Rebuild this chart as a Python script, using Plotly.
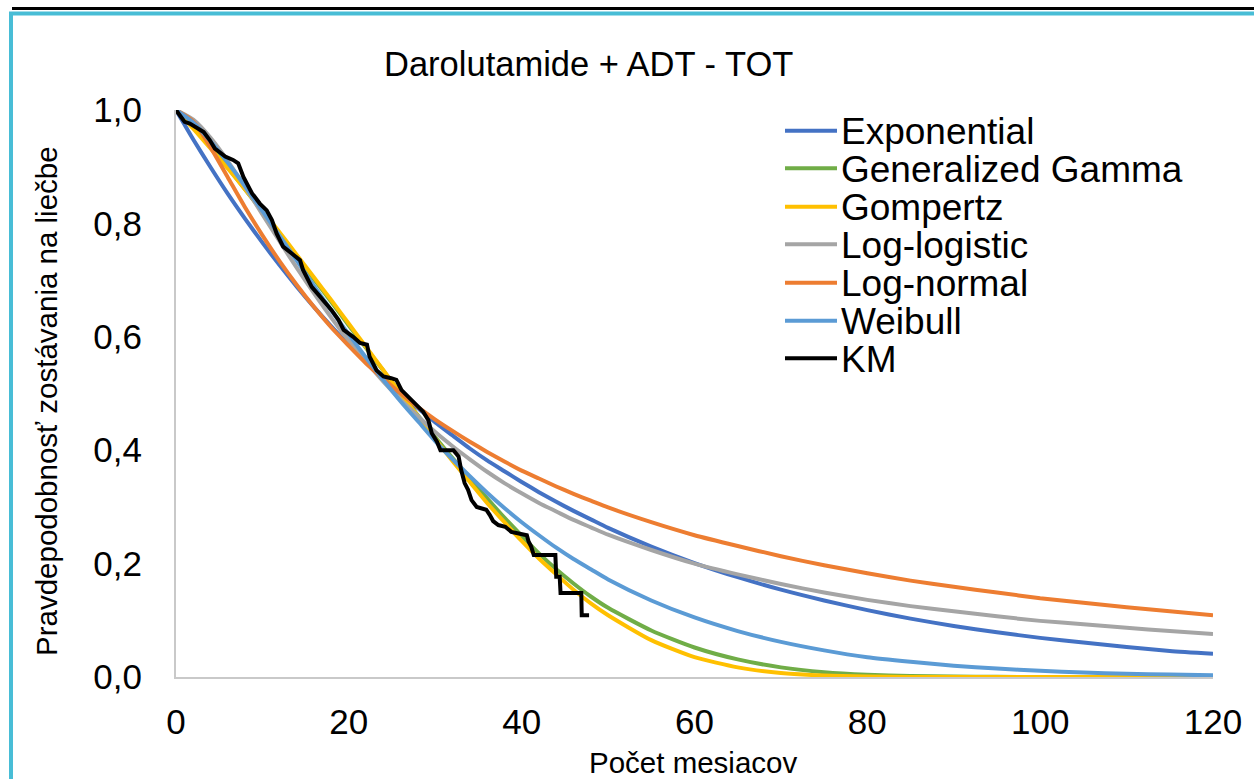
import plotly.graph_objects as go

# ---- data ----
months = [0, 2, 4, 6, 8, 10, 12, 14, 16, 18, 20, 22, 24, 26, 28, 30, 32, 34, 36, 38, 40,
          42, 44, 46, 48, 50, 55, 60, 65, 70, 75, 80, 85, 90, 95, 100, 105, 110, 115, 120]

exponential = [1.000, 0.948, 0.899, 0.852, 0.808, 0.766, 0.726, 0.688, 0.652, 0.618, 0.586,
               0.556, 0.527, 0.499, 0.474, 0.449, 0.426, 0.403, 0.382, 0.363, 0.344,
               0.326, 0.309, 0.293, 0.278, 0.263, 0.230, 0.201, 0.176, 0.154, 0.135,
               0.118, 0.103, 0.090, 0.079, 0.069, 0.061, 0.053, 0.046, 0.041]

gen_gamma = [1.000, 0.970, 0.935, 0.898, 0.860, 0.821, 0.782, 0.742, 0.701, 0.661, 0.620,
             0.580, 0.540, 0.500, 0.461, 0.423, 0.386, 0.350, 0.315, 0.281, 0.249,
             0.218, 0.190, 0.165, 0.142, 0.122, 0.082, 0.052, 0.031, 0.017, 0.0085,
             0.004, 0.0018, 0.0008, 0.0003, 0.0001, 0.0, 0.0, 0.0, 0.0]

gompertz = [1.000, 0.967, 0.932, 0.897, 0.860, 0.822, 0.784, 0.744, 0.704, 0.664, 0.623,
            0.582, 0.541, 0.500, 0.460, 0.420, 0.381, 0.344, 0.307, 0.273, 0.240,
            0.209, 0.181, 0.154, 0.130, 0.109, 0.065, 0.035, 0.017, 0.0071, 0.0025,
            0.0007, 0.0002, 0.0, 0.0, 0.0, 0.0, 0.0, 0.0, 0.0]

log_logistic = [1.000, 0.983, 0.951, 0.910, 0.864, 0.816, 0.768, 0.721, 0.676, 0.633, 0.593,
                0.556, 0.521, 0.489, 0.460, 0.432, 0.407, 0.384, 0.362, 0.342, 0.324,
                0.307, 0.292, 0.277, 0.264, 0.251, 0.224, 0.200, 0.181, 0.164, 0.149,
                0.136, 0.125, 0.116, 0.107, 0.099, 0.093, 0.087, 0.081, 0.076]

log_normal = [1.000, 0.980, 0.934, 0.881, 0.828, 0.779, 0.733, 0.691, 0.652, 0.616, 0.584,
              0.553, 0.526, 0.500, 0.476, 0.454, 0.434, 0.415, 0.397, 0.380, 0.364,
              0.350, 0.336, 0.323, 0.311, 0.299, 0.273, 0.250, 0.231, 0.213, 0.197,
              0.183, 0.170, 0.159, 0.149, 0.139, 0.131, 0.123, 0.116, 0.109]

weibull = [1.000, 0.978, 0.945, 0.907, 0.866, 0.822, 0.778, 0.734, 0.689, 0.646, 0.604,
           0.563, 0.524, 0.486, 0.451, 0.416, 0.384, 0.354, 0.325, 0.298, 0.273,
           0.250, 0.228, 0.208, 0.190, 0.172, 0.135, 0.105, 0.081, 0.062, 0.047,
           0.035, 0.027, 0.020, 0.015, 0.011, 0.0079, 0.0058, 0.0042, 0.0030]

km_months = [0, 1.0, 1.6, 3.2, 3.9, 4.5, 5.7, 6.6, 7.2, 7.8, 8.8, 9.7, 10.5, 11.1, 11.65,
             12.4, 13.4, 14.35, 14.7, 15.7, 16.5, 17.2, 18.0, 18.8, 19.4, 20.5, 21.3, 22.1,
             22.4, 23.2, 24.0, 24.9, 25.5, 26.1, 26.9, 27.7, 28.6, 29.2, 29.6, 30.2, 30.6,
             32.1, 32.7, 33.0, 33.4, 33.8, 34.2, 34.8, 35.9, 36.3, 36.7, 37.3, 38.1, 38.8,
             39.8, 40.6, 40.8, 41.1, 41.4, 43.9, 44.0, 44.4, 44.5, 46.9, 46.95, 47.8]
km_surv = [1.0, 0.979, 0.976, 0.961, 0.947, 0.932, 0.918, 0.912, 0.906, 0.882, 0.853, 0.835,
           0.823, 0.806, 0.782, 0.759, 0.747, 0.735, 0.718, 0.688, 0.674, 0.662, 0.647,
           0.630, 0.612, 0.600, 0.589, 0.586, 0.565, 0.541, 0.530, 0.527, 0.524, 0.506,
           0.494, 0.482, 0.468, 0.453, 0.430, 0.415, 0.400, 0.400, 0.389, 0.365, 0.342,
           0.330, 0.312, 0.300, 0.295, 0.286, 0.275, 0.268, 0.265, 0.256, 0.253, 0.250,
           0.239, 0.230, 0.215, 0.215, 0.177, 0.177, 0.148, 0.148, 0.109, 0.109]

series_names = ["Exponential", "Generalized Gamma", "Gompertz", "Log-logistic",
                "Log-normal", "Weibull", "KM"]
series_values = [exponential, gen_gamma, gompertz, log_logistic, log_normal, weibull]
series_colors = ["#4472C4", "#70AD47", "#FFC000", "#A5A5A5", "#ED7D31", "#5B9BD5", "#000000"]

x_ticks = [0, 20, 40, 60, 80, 100, 120]
y_ticks = [0.0, 0.2, 0.4, 0.6, 0.8, 1.0]

FONT = "Liberation Sans, Arial, sans-serif"
W, H = 1254, 779
L, R, T, B = 176, 1213, 110, 677


def px(x):
    return (x - L) / (R - L)


def py(y):
    return (B - y) / (B - T)


fig = go.Figure()
for name, vals, col in zip(series_names[:-1], series_values, series_colors[:-1]):
    fig.add_trace(go.Scatter(x=months, y=vals, mode="lines", name=name,
                             line=dict(color=col, width=4, shape="spline", smoothing=0.6),
                             showlegend=False))
fig.add_trace(go.Scatter(x=km_months, y=km_surv, mode="lines", name="KM",
                         line=dict(color="#000000", width=4), showlegend=False))

shapes = []
annotations = []

# legend (manual, to match tight Excel spacing)
leg_y = [130.7, 168.3, 206.7, 244.3, 282.7, 320.7, 358.3]
for name, col, yy in zip(series_names, series_colors, leg_y):
    shapes.append(dict(type="line", xref="paper", yref="paper",
                       x0=px(785), x1=px(837), y0=py(yy), y1=py(yy),
                       line=dict(color=col, width=4)))
    annotations.append(dict(text=name, xref="paper", yref="paper", x=px(839), y=py(yy + 1),
                            xanchor="left", yanchor="middle", showarrow=False,
                            font=dict(family=FONT, size=37, color="#000000")))

# frame lines
shapes.append(dict(type="line", xref="paper", yref="paper", x0=px(12), x1=px(1260),
                   y0=py(8.5), y1=py(8.5), line=dict(color="#000000", width=3)))
shapes.append(dict(type="line", xref="paper", yref="paper", x0=px(9), x1=px(1260),
                   y0=py(13.5), y1=py(13.5), line=dict(color="#48BDD6", width=4)))
shapes.append(dict(type="line", xref="paper", yref="paper", x0=px(11), x1=px(11),
                   y0=py(12), y1=py(790), line=dict(color="#48BDD6", width=4)))

annotations.append(dict(text="Darolutamide + ADT - TOT", xref="paper", yref="paper",
                        x=px(588), y=py(64), xanchor="center", yanchor="middle",
                        showarrow=False, font=dict(family=FONT, size=34.5, color="#000000")))
annotations.append(dict(text="Počet mesiacov", xref="paper", yref="paper",
                        x=px(693), y=py(762), xanchor="center", yanchor="middle",
                        showarrow=False, font=dict(family=FONT, size=29.5, color="#000000")))
annotations.append(dict(text="Pravdepodobnosť zostávania na liečbe", xref="paper", yref="paper",
                        x=px(46), y=py(401), xanchor="center", yanchor="middle", textangle=-90,
                        showarrow=False, font=dict(family=FONT, size=29.5, color="#000000")))

fig.update_layout(
    width=W, height=H, autosize=False,
    margin=dict(l=L, r=W - R, t=T, b=H - B, pad=0),
    paper_bgcolor="white", plot_bgcolor="white",
    separators=", ",
    font=dict(family=FONT, size=35, color="#000000"),
    shapes=shapes, annotations=annotations,
    showlegend=False,
    xaxis=dict(range=[0, 120], tickvals=x_ticks, ticktext=[str(v) for v in x_ticks],
               showgrid=False, zeroline=False, showline=True, linecolor="#C9C9C9",
               linewidth=2, ticks="", ticklabelstandoff=13,
               tickfont=dict(family=FONT, size=35, color="#000000")),
    yaxis=dict(range=[0, 1], tickvals=y_ticks, tickformat=".1f",
               showgrid=False, zeroline=False, showline=True, linecolor="#C9C9C9",
               linewidth=2, ticks="", ticklabelstandoff=25,
               tickfont=dict(family=FONT, size=35, color="#000000")),
)

fig.write_html("out.html")
